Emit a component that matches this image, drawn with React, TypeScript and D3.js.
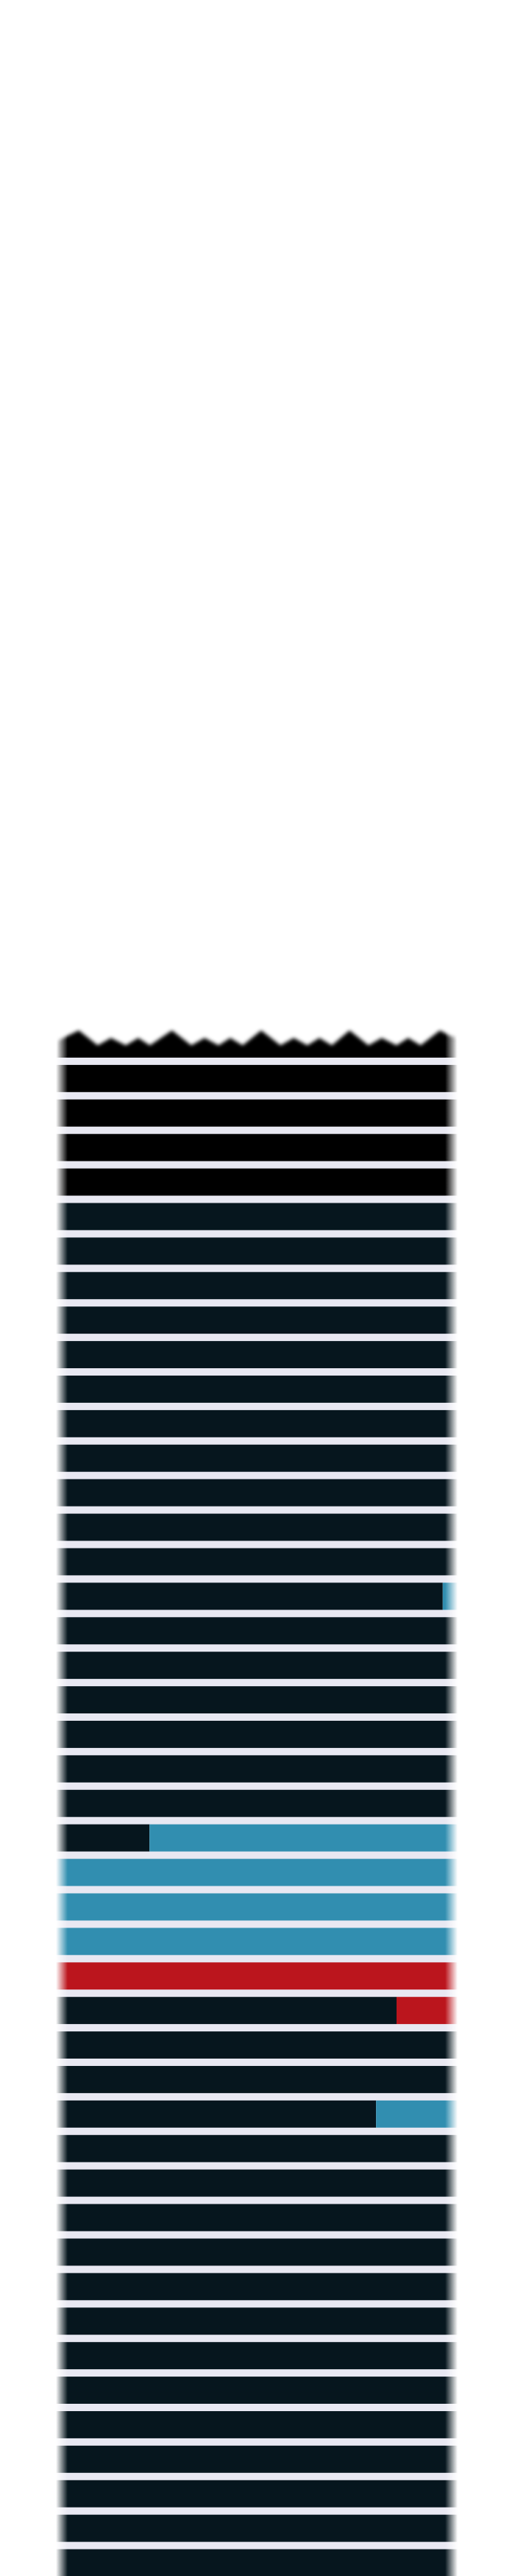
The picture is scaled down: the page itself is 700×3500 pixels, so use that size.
import React from 'react';
import * as d3 from 'd3';

// Share of each row (top to bottom) filled by the dark base colour, from the left
const darkShare = [
  1, 1, 1, 1, 1, 1, 1, 1, 1, 1,
  1, 1, 1, 1, 1, 1, 0.963, 1, 1, 1,
  1, 1, 1, 0.233, 0, 0, 0, 0, 0.848, 1,
  1, 0.797, 1, 1, 1, 1, 1, 1, 1, 1,
  1, 1, 1, 1, 1,
];
// Colour of the remainder of each row
const accentKind = [
  '', '', '', '', '', '', '', '', '', '',
  '', '', '', '', '', '', 'blue', '', '', '',
  '', '', '', 'blue', 'blue', 'blue', 'blue', 'red', 'red', '',
  '', 'blue', '', '', '', '', '', '', '', '',
  '', '', '', '', '',
];
// Base tone of each row
const baseTone = [
  'black', 'black', 'black', 'black', 'black', 'navy', 'navy', 'navy', 'navy', 'navy',
  'navy', 'navy', 'navy', 'navy', 'navy', 'navy', 'navy', 'navy', 'navy', 'navy',
  'navy', 'navy', 'navy', 'navy', 'navy', 'navy', 'navy', 'navy', 'navy', 'navy',
  'navy', 'navy', 'navy', 'navy', 'navy', 'navy', 'navy', 'navy', 'navy', 'navy',
  'navy', 'navy', 'navy', 'navy', 'navy',
];
// Jagged top profile of the first row: position (share of width) and fill height (share of band)
const skylineX = [
  0, 0.015, 0.057, 0.104, 0.137, 0.174, 0.205, 0.234, 0.289, 0.337,
  0.370, 0.405, 0.434, 0.465, 0.511, 0.559, 0.592, 0.626, 0.656, 0.687,
  0.731, 0.778, 0.811, 0.848, 0.877, 0.908, 0.956, 0.982, 1,
];
const skylineH = [
  0.62, 0.7, 1, 0.45, 0.72, 0.45, 0.72, 0.45, 1, 0.45,
  0.72, 0.45, 0.72, 0.45, 1, 0.45, 0.72, 0.45, 0.72, 0.45,
  1, 0.45, 0.72, 0.45, 0.72, 0.45, 1, 0.8, 0.74,
];

const COLORS: Record<string, string> = {
  black: '#000000',
  navy: '#06161e',
  blue: '#318eb0',
  red: '#bb151d',
};
const GAP = '#e8e8f2';

export default function App() {
  const W = 700;
  const H = 3500;
  const rows = darkShare.map((_, i) => i);
  const x = d3.scaleLinear().domain([0, 1]).range([76, 622]);
  const y = d3
    .scaleBand<number>()
    .domain(rows)
    .range([1400, 3500.5])
    .paddingInner(0.213)
    .paddingOuter(0);
  const bw = y.bandwidth();
  const y0 = y(0) as number;

  const sky = skylineX.map((f, i) => ({ f, h: skylineH[i] }));
  const area = d3
    .area<{ f: number; h: number }>()
    .x((d) => x(d.f))
    .y0(y0 + bw + 8)
    .y1((d) => y0 + bw - d.h * bw)
    .curve(d3.curveLinear);

  const x0 = x(0);
  const x1 = x(1);
  const fadeL = (92 - x0) / (x1 - x0);
  const fadeR = (605 - x0) / (x1 - x0);

  return (
    <div style={{ position: 'absolute', left: 0, top: 0 }}>
      <svg width={W} height={H} style={{ display: 'block', background: '#ffffff' }}>
        <defs>
          <linearGradient id="fadeGrad" gradientUnits="userSpaceOnUse" x1={x0} x2={x1} y1={0} y2={0}>
            <stop offset={0} stopColor="#fff" stopOpacity={0} />
            <stop offset={fadeL} stopColor="#fff" stopOpacity={1} />
            <stop offset={fadeR} stopColor="#fff" stopOpacity={1} />
            <stop offset={1} stopColor="#fff" stopOpacity={0} />
          </linearGradient>
          <mask id="fadeMask" maskUnits="userSpaceOnUse" x={0} y={0} width={W} height={H}>
            <rect x={x0} y={0} width={x1 - x0} height={H} fill="url(#fadeGrad)" />
          </mask>
          <filter id="soft" filterUnits="userSpaceOnUse" x={40} y={1360} width={620} height={120}>
            <feGaussianBlur stdDeviation={2.6} />
          </filter>
          <clipPath id="row0clip">
            <rect x={x0 - 2} y={1370} width={x1 - x0 + 4} height={y0 + bw - 1370} />
          </clipPath>
        </defs>
        <g mask="url(#fadeMask)">
          <rect x={x0} y={y0 + bw} width={x1 - x0} height={H - (y0 + bw)} fill={GAP} />
          <g clipPath="url(#row0clip)">
            <path d={area(sky) || ''} fill={COLORS[baseTone[0]]} filter="url(#soft)" />
          </g>
          {rows.slice(1).map((r) => {
            const top = y(r) as number;
            const split = x(darkShare[r]);
            return (
              <g key={r}>
                {darkShare[r] > 0 && (
                  <rect x={x0} y={top} width={split - x0} height={bw} fill={COLORS[baseTone[r]]} />
                )}
                {darkShare[r] < 1 && accentKind[r] && (
                  <rect x={split} y={top} width={x1 - split} height={bw} fill={COLORS[accentKind[r]]} />
                )}
              </g>
            );
          })}
        </g>
      </svg>
    </div>
  );
}
